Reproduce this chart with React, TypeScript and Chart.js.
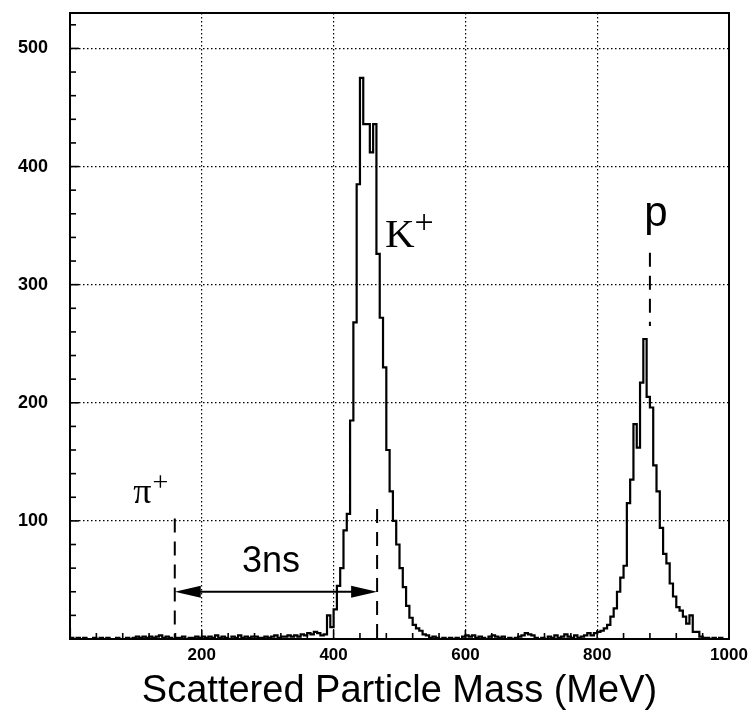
import React, { useEffect, useRef } from 'react';
import { Chart, registerables } from 'chart.js';

Chart.register(...registerables);

// ---- Data (MeV bins of 5 MeV, counts) ----
const BIN_WIDTH = 5;

const lowStart = 0;
const lowCounts = [
  9, 1, 0, 1, 0, 1, 0, 0, 1, 0,
  1, 0, 1, 0, 0, 1, 0, 0, 1, 0,
  1, 2, 1, 2, 1, 2, 1, 2, 3, 1,
  2, 1, 0, 1, 1, 2, 0, 1, 1, 2,
  1, 2, 1, 2, 1, 3, 1, 2, 1, 0,
  2, 1, 3, 1, 2, 1, 2, 2, 1, 1,
  2, 1, 2, 3, 1, 2, 2, 3, 2, 3,
  2, 4, 3, 5, 4, 6, 5, 3,
];

const kaonStart = 390;
const kaonCounts = [
  4, 20, 10, 25, 45, 60, 92, 106, 185, 268,
  385, 475, 436, 436, 412, 436, 326, 272, 230, 160,
  125, 100, 80, 60, 44, 28, 18, 12, 9, 7,
  4, 3, 1,
];

const midStart = 555;
const midCounts = [
  2, 1, 0, 1, 0, 1, 0, 1, 0, 2,
  3, 2, 3, 1, 2, 1, 0, 2, 3, 2,
  1, 2, 0, 1, 0, 1, 2, 3, 5, 4,
  3, 1, 0, 1, 0, 2, 1, 3, 1, 2,
  4, 2, 1, 3, 1, 2, 3, 5,
];

const protonStart = 795;
const protonCounts = [
  3, 5, 6, 7, 9, 12, 19, 26, 40, 52,
  62, 115, 135, 182, 162, 217, 254, 205, 196, 147,
  125, 94, 72, 64, 47, 36, 27, 24, 19, 13,
  20, 6, 6, 2, 1, 1, 0, 1, 0, 1,
  0,
];

const xMin = 0;
const xMax = 1000;
const yMin = 0;
const yMax = 530;
const xTickValues = [0, 200, 400, 600, 800, 1000];
const yTickValues = [0, 100, 200, 300, 400, 500];
const xMinorStep = 40;
const yMinorStep = 20;

// annotation values (data coordinates)
const piMass = 159;
const kaonMass = 466;
const protonMass = 880;
const piLineTop = 102;
const kaonLineTop = 110;
const protonLine = [327, 265];
const arrowLevel = 40;
const piLabelAt = [96, 115];
const kaonLabelAt = [478, 332];
const protonLabelAt = [889, 350];
const nsLabelAt = [261, 57];

const xTitle = 'Scattered Particle Mass (MeV)';

function buildPoints() {
  const pts: { x: number; y: number }[] = [];
  const add = (start: number, arr: number[]) =>
    arr.forEach((c, i) => pts.push({ x: start + i * BIN_WIDTH, y: c }));
  add(lowStart, lowCounts);
  add(kaonStart, kaonCounts);
  add(midStart, midCounts);
  add(protonStart, protonCounts);
  pts.sort((a, b) => a.x - b.x);
  pts.push({ x: xMax, y: 0 });
  return pts;
}

const SANS = "'Liberation Sans', Arial, Helvetica, sans-serif";
const SERIF = "'Liberation Serif', 'Times New Roman', serif";

const annotPlugin = {
  id: 'annot',
  afterDraw(chart: any) {
    const { ctx, chartArea: a } = chart;
    const x = chart.scales.x;
    const y = chart.scales.y;
    const px = (v: number) => x.getPixelForValue(v);
    const py = (v: number) => y.getPixelForValue(v);
    ctx.save();
    ctx.strokeStyle = '#000';
    ctx.fillStyle = '#000';

    // inward ticks
    ctx.lineWidth = 1.6;
    ctx.setLineDash([]);
    for (let v = xMin; v <= xMax; v += xMinorStep) {
      const len = v % 200 === 0 ? 9 : 6;
      ctx.beginPath();
      ctx.moveTo(px(v), a.bottom);
      ctx.lineTo(px(v), a.bottom - len);
      ctx.stroke();
    }
    for (let v = yMin; v <= 520; v += yMinorStep) {
      const len = v % 100 === 0 ? 9 : 6;
      ctx.beginPath();
      ctx.moveTo(a.left, py(v));
      ctx.lineTo(a.left + len, py(v));
      ctx.stroke();
    }

    // frame
    ctx.lineWidth = 2;
    ctx.strokeRect(a.left, a.top, a.right - a.left, a.bottom - a.top);

    // dashed marker lines
    ctx.lineWidth = 2;
    ctx.setLineDash([14, 9]);
    const vline = (xv: number, y1: number, y2: number) => {
      ctx.beginPath();
      ctx.moveTo(px(xv), py(y1));
      ctx.lineTo(px(xv), py(y2));
      ctx.stroke();
    };
    vline(piMass, piLineTop, 0);
    vline(kaonMass, kaonLineTop, 0);
    vline(protonMass, protonLine[0], protonLine[1]);
    ctx.setLineDash([]);

    // double arrow
    const ay = py(arrowLevel);
    const x1 = px(piMass);
    const x2 = px(kaonMass);
    const head = 26;
    const hw = 6;
    ctx.lineWidth = 2;
    ctx.beginPath();
    ctx.moveTo(x1 + head - 2, ay);
    ctx.lineTo(x2 - head + 2, ay);
    ctx.stroke();
    ctx.beginPath();
    ctx.moveTo(x1, ay);
    ctx.lineTo(x1 + head, ay - hw);
    ctx.lineTo(x1 + head, ay + hw);
    ctx.closePath();
    ctx.fill();
    ctx.beginPath();
    ctx.moveTo(x2, ay);
    ctx.lineTo(x2 - head, ay - hw);
    ctx.lineTo(x2 - head, ay + hw);
    ctx.closePath();
    ctx.fill();

    // labels
    ctx.textBaseline = 'alphabetic';
    ctx.textAlign = 'left';
    // pi+
    ctx.font = `36px ${SERIF}`;
    let lx = px(piLabelAt[0]);
    let ly = py(piLabelAt[1]);
    ctx.fillText('\u03c0', lx, ly);
    let w = ctx.measureText('\u03c0').width;
    ctx.font = `28px ${SERIF}`;
    ctx.fillText('+', lx + w + 1, ly - 12);
    // K+
    ctx.font = `41px ${SERIF}`;
    lx = px(kaonLabelAt[0]);
    ly = py(kaonLabelAt[1]);
    ctx.fillText('K', lx, ly);
    w = ctx.measureText('K').width;
    ctx.font = `34px ${SERIF}`;
    ctx.fillText('+', lx + w, ly - 14);
    // p
    ctx.font = `42px ${SANS}`;
    ctx.textAlign = 'center';
    ctx.fillText('p', px(protonLabelAt[0]), py(protonLabelAt[1]));
    // 3ns
    ctx.textAlign = 'left';
    ctx.font = `36px ${SANS}`;
    ctx.fillText('3ns', px(nsLabelAt[0]), py(nsLabelAt[1]));
    ctx.restore();
  },
};

export default function App() {
  const ref = useRef<HTMLCanvasElement | null>(null);
  useEffect(() => {
    if (!ref.current) return;
    const chart = new Chart(ref.current, {
      type: 'line',
      data: {
        datasets: [
          {
            data: buildPoints(),
            stepped: 'after',
            borderColor: '#000',
            borderWidth: 2.2,
            pointRadius: 0,
            fill: false,
          },
        ],
      },
      options: {
        animation: false,
        responsive: false,
        maintainAspectRatio: false,
        layout: { padding: { top: 13, right: 25, left: 0, bottom: 0 } },
        plugins: { legend: { display: false }, tooltip: { enabled: false } },
        scales: {
          x: {
            type: 'linear',
            min: xMin,
            max: xMax,
            afterFit: (s: any) => {
              s.height = 82;
              s.paddingLeft = 0;
              s.paddingRight = 0;
            },
            afterBuildTicks: (s: any) => {
              s.ticks = xTickValues.map((v) => ({ value: v }));
            },
            ticks: {
              padding: 6,
              color: '#000',
              maxRotation: 0,
              autoSkip: false,
              font: { family: SANS, size: 17, weight: 'bold' },
              callback: (v: any) => (v === 0 ? '' : String(v)),
            },
            grid: {
              drawTicks: false,
              lineWidth: 1.2,
              color: (c: any) =>
                c.tick && (c.tick.value === xMin || c.tick.value === xMax) ? 'rgba(0,0,0,0)' : '#000',
            },
            border: { display: true, color: '#000', width: 2, dash: [1.5, 2.5] },
            title: {
              display: true,
              text: xTitle,
              color: '#000',
              font: { family: SANS, size: 38 },
              padding: { top: 0, bottom: 7 },
            },
          },
          y: {
            type: 'linear',
            min: yMin,
            max: yMax,
            afterFit: (s: any) => {
              s.width = 70;
              s.paddingTop = 0;
              s.paddingBottom = 0;
            },
            afterBuildTicks: (s: any) => {
              s.ticks = yTickValues.map((v) => ({ value: v }));
            },
            ticks: {
              padding: 22,
              color: '#000',
              font: { family: SANS, size: 18, weight: 'bold' },
              callback: (v: any) => (v === 0 ? '' : String(v)),
            },
            grid: {
              drawTicks: false,
              lineWidth: 1.2,
              color: (c: any) => (c.tick && c.tick.value === yMin ? 'rgba(0,0,0,0)' : '#000'),
            },
            border: { display: true, color: '#000', width: 2, dash: [1.5, 2.5] },
          },
        },
      },
      plugins: [annotPlugin],
    } as any);
    return () => chart.destroy();
  }, []);
  return (
    <div style={{ position: 'fixed', left: 0, top: 0, width: 754, height: 721, background: '#fff' }}>
      <canvas ref={ref} width={754} height={721} style={{ width: 754, height: 721, display: 'block' }} />
    </div>
  );
}
